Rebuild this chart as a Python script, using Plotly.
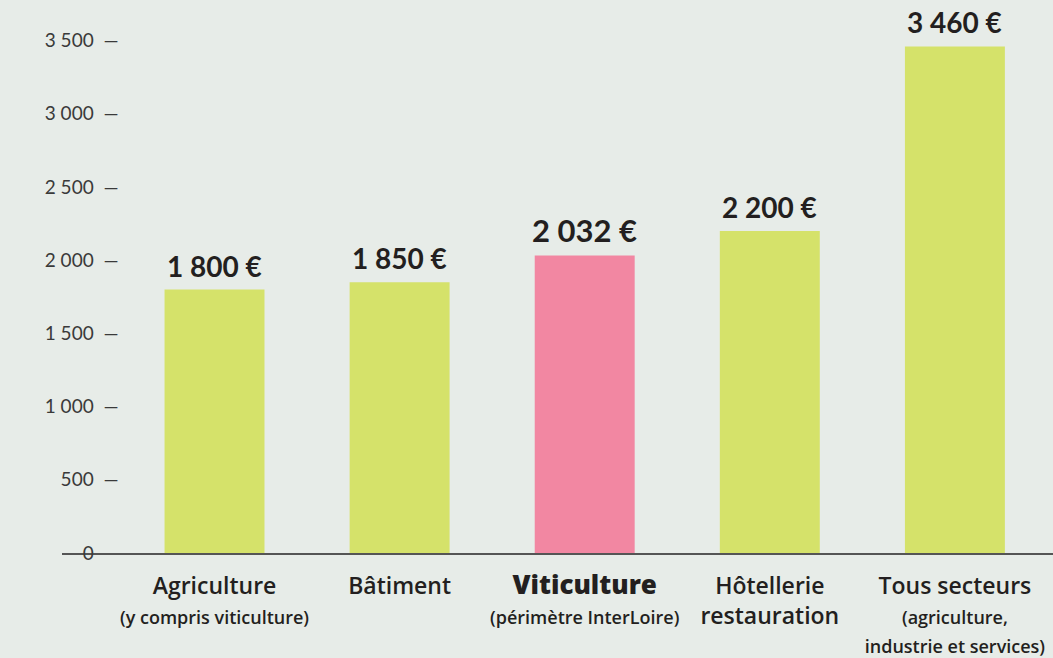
import plotly.graph_objects as go

# Salaire moyen par secteur
secteurs = ["Agriculture", "Bâtiment", "Viticulture", "Hôtellerie", "Tous secteurs"]
salaires = [1800, 1850, 2032, 2200, 3460]
etiquettes = ["1 800 €", "1 850 €", "2 032 €", "2 200 €", "3 460 €"]
SOUS = "<span style='font-size:18px'>%s</span>"
libelles = [
    "Agriculture<br>" + SOUS % "(y compris viticulture)",
    "Bâtiment<br> ",
    "<span style='font-size:26px;font-weight:800'>Viticulture</span><br>" + SOUS % "(périmètre InterLoire)",
    "Hôtellerie<br>restauration",
    "Tous secteurs<br>" + SOUS % "(agriculture," + "<br>" + SOUS % "industrie et services)",
]
y_ticks = [0, 500, 1000, 1500, 2000, 2500, 3000, 3500]
y_ticktext = ["0\u00a0\u00a0<span style='color:rgba(0,0,0,0)'>—</span>",
              "500\u00a0\u00a0—", "1 000\u00a0\u00a0—", "1 500\u00a0\u00a0—", "2 000\u00a0\u00a0—",
              "2 500\u00a0\u00a0—", "3 000\u00a0\u00a0—", "3 500\u00a0\u00a0—"]

VERT = "#d5e26a"
ROSE = "#f287a2"
FOND = "#e7ece8"
couleurs = [ROSE if s == "Viticulture" else VERT for s in secteurs]

fig = go.Figure()
fig.add_trace(go.Bar(x=secteurs, y=salaires, marker=dict(color=couleurs, line_width=0),
                     width=0.54, hoverinfo="skip"))

for s, v, t in zip(secteurs, salaires, etiquettes):
  big = s == "Viticulture"
  fig.add_annotation(x=s, y=v, text="<b>%s</b>" % t, showarrow=False,
                     yanchor="bottom", yshift=5,
                     font=dict(size=31 if big else 28, color="#231f20", family="Lato"))

fig.update_layout(
  width=1053, height=658,
  margin=dict(l=62, r=0, t=26, b=103),
  paper_bgcolor=FOND, plot_bgcolor=FOND,
  showlegend=False,
  font=dict(family="Open Sans", color="#231f20"),
)
fig.update_xaxes(
  range=[-0.824, 4.53],
  tickmode="array", tickvals=secteurs, ticktext=libelles,
  tickfont=dict(size=23, color="#231f20", weight=600),
  ticklabelstandoff=11,
  showline=True, linecolor="#555555", linewidth=2,
  ticks="", showgrid=False, zeroline=False,
)
fig.update_yaxes(
  range=[0, 3600],
  anchor="free", position=0.057,
  tickmode="array", tickvals=y_ticks, ticktext=y_ticktext,
  tickfont=dict(size=19, color="#3a3a3a", family="Lato"),
  ticks="", showline=False, showgrid=False, zeroline=False,
)

fig.write_html("out.html", config={"displayModeBar": False},
               post_script="document.body.style.margin='0';")
